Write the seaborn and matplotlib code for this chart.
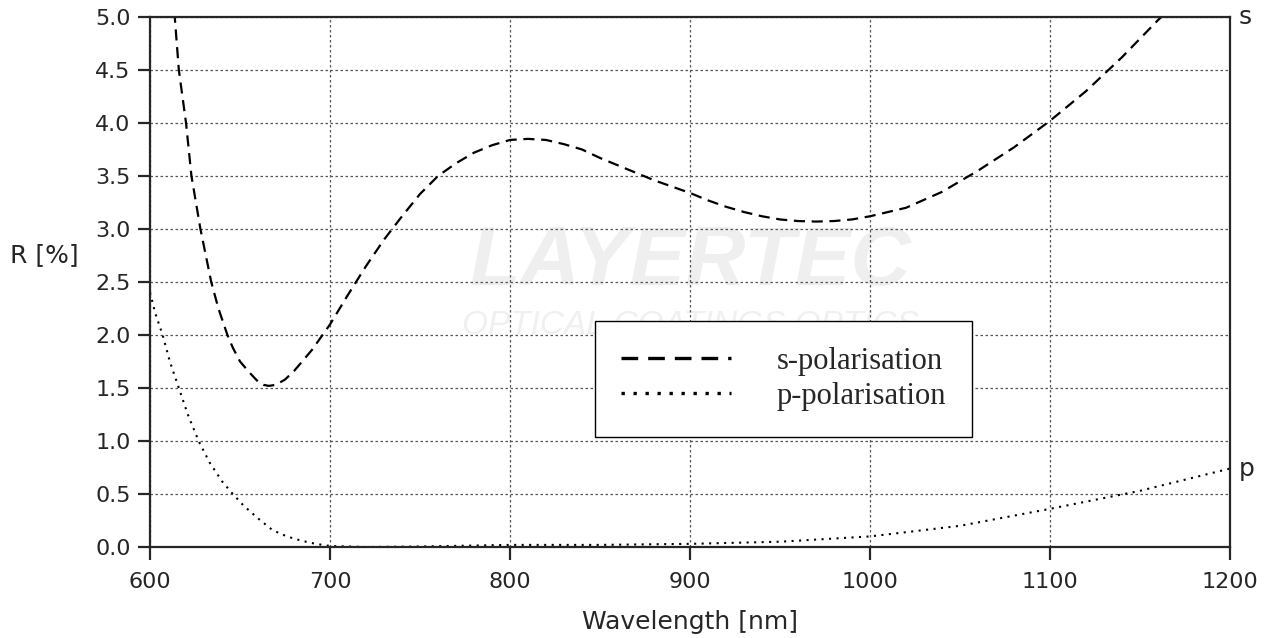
import pandas as pd
import matplotlib
matplotlib.use('Agg')
import matplotlib.pyplot as plt
import seaborn as sns

# values
s_wl = [613.5, 616, 620, 623, 625.5, 628, 631, 634, 638, 643, 646, 650, 655, 660,
        663, 666, 670, 675, 680, 690, 700,
        710, 720, 730, 740, 750, 760, 770, 780, 790, 800, 810, 820, 830, 840,
        850, 860, 870, 880, 890, 900, 910, 920, 930, 940, 950, 960, 970, 980,
        990, 1000, 1020, 1040, 1060, 1080, 1100, 1120, 1140, 1160, 1165]
s_r = [5.05, 4.5, 4.0, 3.5, 3.25, 3.0, 2.75, 2.5, 2.25, 2.0, 1.88, 1.75, 1.65, 1.56,
       1.53, 1.52, 1.53, 1.58, 1.66, 1.86, 2.1,
       2.38, 2.65, 2.9, 3.12, 3.33, 3.5, 3.62, 3.72, 3.79, 3.84, 3.85, 3.84, 3.8, 3.75,
       3.67, 3.6, 3.53, 3.46, 3.4, 3.34, 3.27, 3.21, 3.16, 3.12, 3.09, 3.075, 3.07, 3.075,
       3.09, 3.12, 3.2, 3.35, 3.55, 3.77, 4.02, 4.3, 4.62, 4.97, 5.05]

p_wl = [600, 603, 607, 611, 616, 621, 627, 633, 640, 646, 652, 660, 668, 676,
        684, 692, 700, 720, 750, 800, 850, 900, 950, 1000, 1050, 1100, 1150, 1200]
p_r = [2.4, 2.2, 2.0, 1.75, 1.5, 1.25, 1.0, 0.8, 0.62, 0.5, 0.39, 0.27, 0.16, 0.1,
       0.06, 0.03, 0.01, 0.0, 0.005, 0.02, 0.02, 0.03, 0.05, 0.1, 0.2, 0.36, 0.53, 0.74]

x_ticks = [600, 700, 800, 900, 1000, 1100, 1200]
y_ticks = [0.0, 0.5, 1.0, 1.5, 2.0, 2.5, 3.0, 3.5, 4.0, 4.5, 5.0]

sns.set_style("ticks")
plt.rcParams['font.family'] = ['DejaVu Sans']

df_s = pd.DataFrame({'wl': s_wl, 'R': s_r})
df_p = pd.DataFrame({'wl': p_wl, 'R': p_r})

fig = plt.figure(figsize=(12.78, 6.38), dpi=100)
ax = fig.add_axes([0.1174, 0.1426, 0.845, 0.8308])

# faint watermark
ax.text(0.5, 0.535, 'LAYERTEC', transform=ax.transAxes, ha='center', va='center',
        fontsize=60, fontweight='bold', fontstyle='italic', color='#efefef', zorder=0,
        family='Liberation Sans')
ax.text(0.5, 0.418, 'OPTICAL COATINGS OPTICS', transform=ax.transAxes, ha='center',
        va='center', fontsize=24, fontstyle='italic', color='#f0f0f0', zorder=0,
        family='Liberation Sans')

sns.lineplot(data=df_s, x='wl', y='R', ax=ax, color='black', lw=1.6,
             label='s-polarisation', sort=False, zorder=3)
sns.lineplot(data=df_p, x='wl', y='R', ax=ax, color='black', lw=1.5,
             label='p-polarisation', sort=False, zorder=3)
ax.lines[0].set_dashes([5, 3])
ax.lines[1].set_dashes([1, 2.6])

ax.set_xlim(600, 1200)
ax.set_ylim(0, 5.0)
ax.set_xticks(x_ticks)
ax.set_yticks(y_ticks)
ax.set_yticklabels([f'{v:.1f}' for v in y_ticks])
ax.tick_params(direction='out', length=9, width=1.6, labelsize=16, pad=5)
ax.tick_params(axis='x', pad=9)
ax.grid(True, color='#555555', linestyle=(0, (2, 2)), lw=0.9)
for sp in ax.spines.values():
    sp.set_visible(True)
    sp.set_linewidth(1.6)
    sp.set_zorder(4)

ax.set_xlabel('Wavelength [nm]', fontsize=18, labelpad=13)
ax.set_ylabel('')
fig.text(10 / 1278, 1 - 255 / 638, 'R [%]', fontsize=18, ha='left', va='center')
ax.text(1.008, 1.0, 's', transform=ax.transAxes, fontsize=18, ha='left', va='center')
ax.text(1.008, 0.74 / 5.0, 'p', transform=ax.transAxes, fontsize=18,
        ha='left', va='center')

leg = ax.legend(loc='upper left', bbox_to_anchor=(0.412, 0.427), frameon=True,
                fancybox=False, edgecolor='black', framealpha=1,
                prop={'family': 'Liberation Serif', 'size': 22},
                handlelength=3.6, handletextpad=1.5, borderpad=0.85,
                labelspacing=0.2, borderaxespad=0)
leg.get_frame().set_linewidth(1.0)
leg.set_zorder(5)
for ln in leg.get_lines():
    ln.set_linewidth(2.4)

fig.savefig('out.png', dpi=100)
